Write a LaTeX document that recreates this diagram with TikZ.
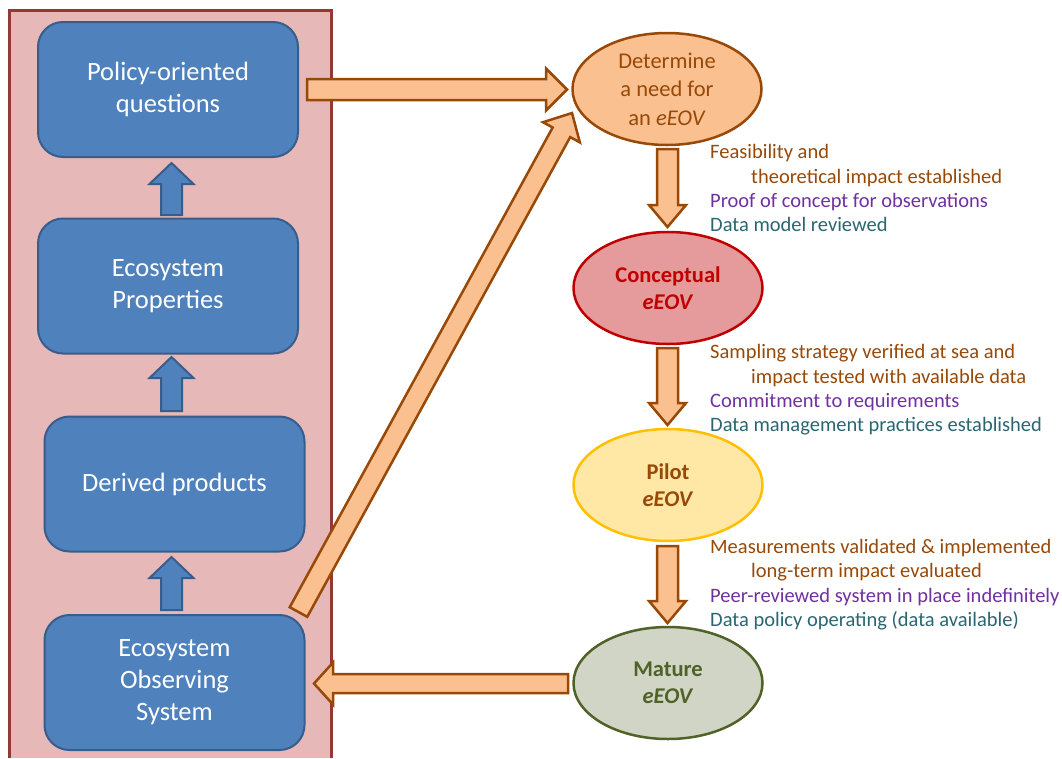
\documentclass[tikz,border=0pt]{standalone}
\usepackage{fontspec}
\setmainfont{Carlito}
\usetikzlibrary{calc,shapes.geometric}

\definecolor{panelfill}{HTML}{E6B9B8}
\definecolor{paneledge}{HTML}{953735}
\definecolor{boxfill}{HTML}{4F81BD}
\definecolor{boxedge}{HTML}{385D8A}
\definecolor{arrfill}{HTML}{FAC090}
\definecolor{arredge}{HTML}{984807}
\definecolor{concfill}{HTML}{E59B9B}
\definecolor{concedge}{HTML}{C00000}
\definecolor{pilotfill}{HTML}{FFE8A6}
\definecolor{pilotedge}{HTML}{FFC000}
\definecolor{matfill}{HTML}{D1D5C5}
\definecolor{matedge}{HTML}{4F6228}
\definecolor{txtbrown}{HTML}{984807}
\definecolor{txtpurple}{HTML}{7030A0}
\definecolor{txtteal}{HTML}{2B6571}

% block arrow: style, from, to, half shaft width, half head width, head length
\newcommand{\blockarr}[6]{%
  \coordinate (ba-h) at ($(#3)!#6!(#2)$);
  \draw[#1] ($(#2)!#4!90:(#3)$) -- ($(ba-h)!#4!-90:(#2)$) -- ($(ba-h)!#5!-90:(#2)$)
    -- (#3) -- ($(ba-h)!#5!90:(#2)$) -- ($(ba-h)!#4!90:(#2)$)
    -- ($(#2)!#4!-90:(#3)$) -- cycle;
}

\tikzset{
  bluebox/.style={draw=boxedge, fill=boxfill, line width=2pt, rounded corners=25pt,
    minimum width=260pt, minimum height=135pt, align=center, text=white,
    font=\fontsize{26.5}{32}\selectfont},
  stage/.style={ellipse, line width=2.5pt, minimum width=189pt, minimum height=112pt,
    inner sep=0pt, align=center, font=\fontsize{22.5}{28.5}\selectfont},
  stagebold/.style={stage, font=\bfseries\fontsize{22.5}{27.5}\selectfont},
  orangearr/.style={fill=arrfill, draw=arredge, line width=2.5pt, line join=miter},
  bluearr/.style={fill=boxfill, draw=boxedge, line width=2pt, line join=miter},
  note/.style={anchor=base west, inner sep=0pt, font=\fontsize{20.5}{24}\selectfont},
}

\begin{document}
\begin{tikzpicture}[x=1pt,y=-1pt]
\useasboundingbox (0,0) rectangle (1062,758);

% left panel
\fill[panelfill] (9,758) -- (9,10) -- (331,10) -- (331,758) -- cycle;
\draw[paneledge, line width=3pt] (9,758) -- (9,10) -- (331,10) -- (331,758);

% left column boxes
\node[bluebox] (pq)  at (168,89.5)  {Policy-oriented\\questions};
\node[bluebox] (ep)  at (168,286)   {Ecosystem\\Properties};
\node[bluebox] (dp)  at (174.5,484) {Derived products};
\node[bluebox] (eos) at (174.5,682.5) {Ecosystem\\Observing\\System};

% stages
\node[stage, fill=arrfill, draw=arredge, text=txtbrown] (need) at (667,89)
  {Determine\\a need for\\an \textit{eEOV}};
\node[stagebold, fill=concfill, draw=concedge, text=concedge] (conc) at (668,288)
  {Conceptual\\\textit{eEOV}};
\node[stagebold, fill=pilotfill, draw=pilotedge, text=txtbrown] (pilot) at (668,485)
  {Pilot\\\textit{eEOV}};
\node[stagebold, fill=matfill, draw=matedge, text=matedge] (mat) at (668,683)
  {Mature\\\textit{eEOV}};

% arrow end points
\coordinate (u1a) at (171.5,215);  \coordinate (u1b) at (171.5,163);
\coordinate (u2a) at (171.5,411);  \coordinate (u2b) at (171.5,357);
\coordinate (u3a) at (171.5,610);  \coordinate (u3b) at (171.5,557);
\coordinate (ra) at (307,89.5);    \coordinate (rb) at (567,89.5);
\coordinate (da) at (298.5,612);   \coordinate (db) at (572,113);
\coordinate (d1a) at (667.5,149);  \coordinate (d1b) at (667.5,227);
\coordinate (d2a) at (667.5,348);  \coordinate (d2b) at (667.5,425);
\coordinate (d3a) at (667.5,546);  \coordinate (d3b) at (667.5,623);
\coordinate (la) at (568,683.5);   \coordinate (lb) at (314,683.5);

% upward arrows in the panel
\blockarr{bluearr}{u1a}{u1b}{10.5pt}{22pt}{21pt}
\blockarr{bluearr}{u2a}{u2b}{10.5pt}{22pt}{21pt}
\blockarr{bluearr}{u3a}{u3b}{10.5pt}{22pt}{21pt}

% orange arrows
\blockarr{orangearr}{ra}{rb}{10.5pt}{21pt}{21pt}
\blockarr{orangearr}{da}{db}{10pt}{21pt}{22pt}
\blockarr{orangearr}{d1a}{d1b}{10.5pt}{18.5pt}{22pt}
\blockarr{orangearr}{d2a}{d2b}{10.5pt}{18.5pt}{22pt}
\blockarr{orangearr}{d3a}{d3b}{10.5pt}{18.5pt}{22pt}
\blockarr{orangearr}{la}{lb}{9.5pt}{21pt}{19pt}

% transition notes
\node[note, text=txtbrown]  (n1a) at (710,158)   {Feasibility and};
\node[note, text=txtbrown]  (n1b) at (751,183)   {theoretical impact established};
\node[note, text=txtpurple] (n1c) at (710,207)   {Proof of concept for observations};
\node[note, text=txtteal]   (n1d) at (710,231.5) {Data model reviewed};

\node[note, text=txtbrown]  (n2a) at (710,358)   {Sampling strategy verified at sea and};
\node[note, text=txtbrown]  (n2b) at (751,383)   {impact tested with available data};
\node[note, text=txtpurple] (n2c) at (710,407)   {Commitment to requirements};
\node[note, text=txtteal]   (n2d) at (710,431)   {Data management practices established};

\node[note, text=txtbrown]  (n3a) at (710,553)   {Measurements validated \& implemented};
\node[note, text=txtbrown]  (n3b) at (751,577)   {long-term impact evaluated};
\node[note, text=txtpurple] (n3c) at (710,602)   {Peer-reviewed system in place indefinitely};
\node[note, text=txtteal]   (n3d) at (710,626)   {Data policy operating (data available)};
\end{tikzpicture}
\end{document}
